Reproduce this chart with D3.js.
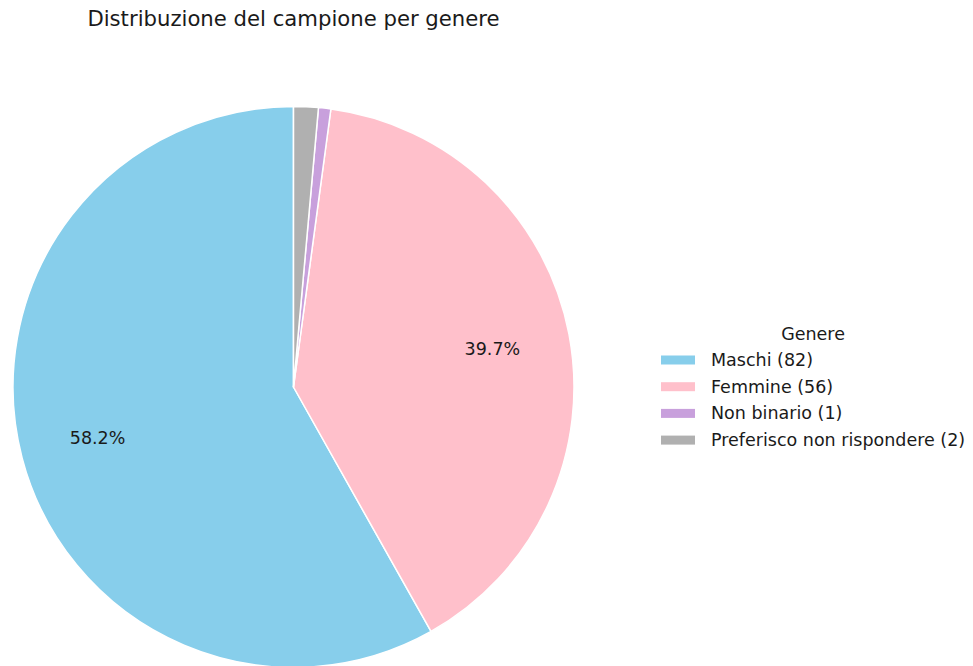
<!DOCTYPE html>
<html>
<head>
<meta charset="utf-8">
<script src="https://cdn.jsdelivr.net/npm/d3@7"></script>
<style>
  html, body { margin: 0; padding: 0; background: #fff; }
  svg { display: block; font-family: "DejaVu Sans", sans-serif; }
</style>
</head>
<body>
<svg id="chart" width="973" height="666"></svg>
<script>
// Survey sample by gender
const categories = ["Maschi", "Femmine", "Non binario", "Preferisco non rispondere"];
const counts = [82, 56, 1, 2];
const colors = ["#87ceeb", "#ffc0cb", "#c8a0dc", "#b0b0b0"];
const chartTitle = "Distribuzione del campione per genere";
const legendTitle = "Genere";

const svg = d3.select("#chart");
const cx = 293.5, cy = 387, radius = 280.5;
const total = d3.sum(counts);

// Title
svg.append("text")
  .attr("x", cx).attr("y", 26)
  .attr("text-anchor", "middle")
  .attr("font-size", 21.2)
  .attr("fill", "#1a1a1a")
  .text(chartTitle);

// Pie: starts at 12 o'clock, runs counter-clockwise
const pie = d3.pie()
  .sort(null)
  .value(d => d.value)
  .startAngle(0)
  .endAngle(-2 * Math.PI);

const data = categories.map((c, i) => ({ name: c, value: counts[i], color: colors[i] }));
const arcs = pie(data);

const arc = d3.arc().innerRadius(0).outerRadius(radius);
const labelArc = d3.arc().innerRadius(radius * 0.722).outerRadius(radius * 0.722);

const g = svg.append("g").attr("transform", `translate(${cx},${cy})`);

g.selectAll("path.slice")
  .data(arcs)
  .join("path")
  .attr("class", "slice")
  .attr("d", arc)
  .attr("fill", d => d.data.color)
  .attr("stroke", "#ffffff")
  .attr("stroke-width", 1.5)
  .attr("stroke-linejoin", "round");

// Percent labels only on the larger slices
const fmt = v => (v * 100).toFixed(1) + "%";
g.selectAll("text.pct")
  .data(arcs.filter(d => d.data.value / total >= 0.05))
  .join("text")
  .attr("class", "pct")
  .attr("transform", d => `translate(${labelArc.centroid(d)})`)
  .attr("text-anchor", "middle")
  .attr("dominant-baseline", "central")
  .attr("font-size", 17.5)
  .attr("fill", "#1a1a1a")
  .text(d => fmt(d.data.value / total));

// Legend
const legendX = 661, legendTop = 360, rowH = 26.7;
const legend = svg.append("g");
const items = legend.selectAll("g.item")
  .data(data)
  .join("g")
  .attr("class", "item")
  .attr("transform", (d, i) => `translate(${legendX},${legendTop + i * rowH})`);

items.append("rect")
  .attr("x", 0).attr("y", -4.5)
  .attr("width", 34).attr("height", 9)
  .attr("fill", d => d.color);

items.append("text")
  .attr("x", 50).attr("y", 0)
  .attr("dominant-baseline", "central")
  .attr("font-size", 17.5)
  .attr("fill", "#1a1a1a")
  .text(d => `${d.name} (${d.value})`);

// Legend title centred over the legend block
const bbox = legend.node().getBBox();
legend.append("text")
  .attr("x", bbox.x + bbox.width / 2)
  .attr("y", 340)
  .attr("text-anchor", "middle")
  .attr("font-size", 17.5)
  .attr("fill", "#1a1a1a")
  .text(legendTitle);
</script>
</body>
</html>
